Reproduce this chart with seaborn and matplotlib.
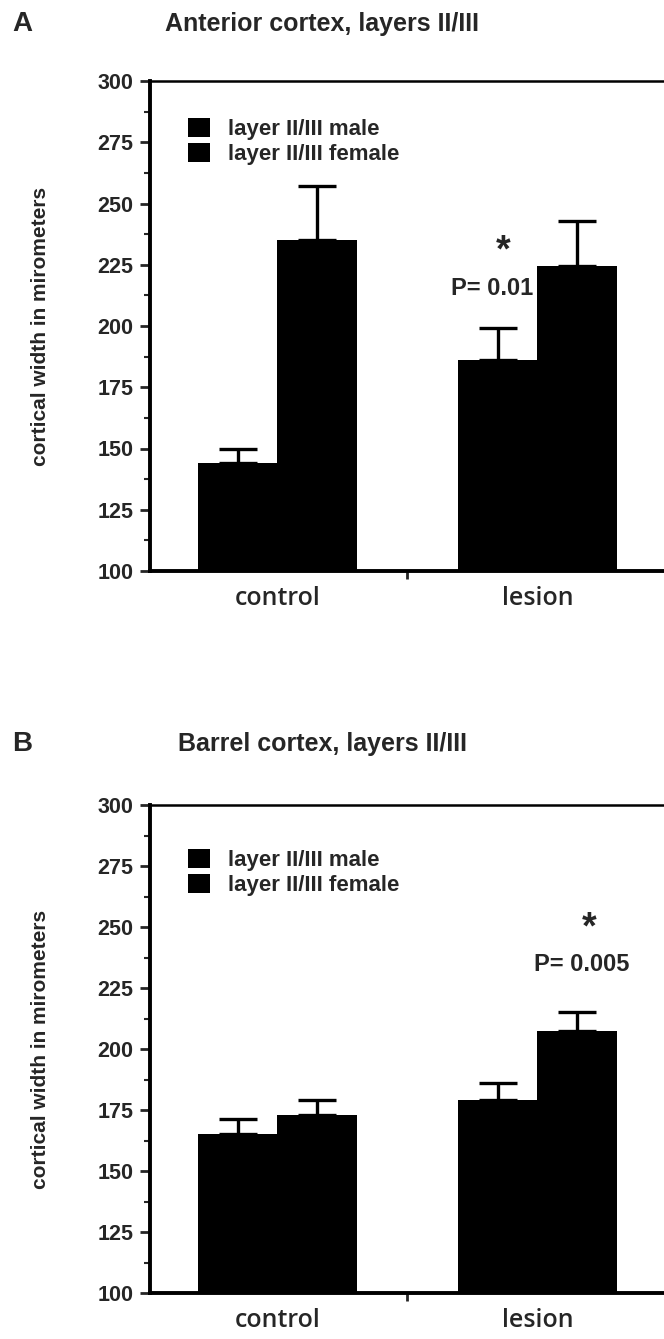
import matplotlib
matplotlib.use('Agg')
import matplotlib.pyplot as plt
import numpy as np
import pandas as pd
import seaborn as sns

# ---------------- data ----------------
groups = ['control', 'lesion']
sexes = ['layer II/III male', 'layer II/III female']

# A: anterior cortex, layers II/III
ant_male = [144, 186]
ant_female = [235, 224.5]
ant_male_err = [6, 13]
ant_female_err = [22, 18.5]

# B: barrel cortex, layers II/III
brl_male = [165, 179]
brl_female = [173, 207.5]
brl_male_err = [6.5, 7]
brl_female_err = [6, 7.5]

# ---------------- style ----------------
sns.set_style('ticks')
narrow = ['Liberation Sans Narrow', 'Liberation Sans', 'DejaVu Sans']
plt.rcParams['font.family'] = narrow
plt.rcParams['font.weight'] = 'bold'

W, H = 664, 1339
fig = plt.figure(figsize=(W / 100, H / 100), dpi=100)


def draw_panel(top_px, bot_px, letter, title, title_y, male, female, male_err, female_err, legend_top):
    ax = fig.add_axes([150 / W, 1 - bot_px / H, (667 - 150) / W, (bot_px - top_px) / H])
    df = pd.DataFrame({'group': groups * 2,
                       'sex': [sexes[0]] * 2 + [sexes[1]] * 2,
                       'width': male + female})
    sns.barplot(data=df, x='group', y='width', hue='sex', palette=['black', 'black'],
                width=0.61, gap=0, errorbar=None, linewidth=0, ax=ax)

    # upward error bars only, from the bars seaborn drew
    for cont, errs in zip(ax.containers, [male_err, female_err]):
        xs = [b.get_x() + b.get_width() / 2 for b in cont]
        tops = [b.get_y() + b.get_height() for b in cont]
        ax.errorbar(xs, tops, yerr=[np.zeros(len(errs)), errs], fmt='none', ecolor='black',
                    elinewidth=2.4, capsize=14, capthick=2.4, zorder=1)

    ax.set_ylim(100, 300)
    ax.set_xlim(-0.49, -0.49 + 517 / 260)
    ax.set_yticks(range(100, 301, 25))
    ax.set_yticks(np.arange(112.5, 300, 25), minor=True)
    ax.tick_params(axis='y', which='major', direction='out', length=7, width=2, labelsize=15.5, pad=5)
    ax.tick_params(axis='y', which='minor', direction='out', length=4, width=1.5)
    ax.set_xticks([0, 1])
    ax.set_xticklabels(groups, fontfamily=['Open Sans', 'DejaVu Sans'], fontsize=18, fontweight='semibold')
    ax.set_xticks([0.5], minor=True)
    ax.tick_params(axis='x', which='major', length=0, pad=11)
    ax.tick_params(axis='x', which='minor', direction='out', length=6, width=2)

    for side, lw in [('left', 2.8), ('bottom', 2.8), ('top', 1.8), ('right', 1.8)]:
        ax.spines[side].set_visible(True)
        ax.spines[side].set_linewidth(lw)
        ax.spines[side].set_color('black')

    ax.set_xlabel('')
    ax.set_ylabel('cortical width in mirometers', fontsize=15, fontweight='bold')
    ax.yaxis.set_label_coords((50 - 150) / 517, 0.5)

    handles, labels = ax.get_legend_handles_labels()
    ax.legend(handles, labels, loc='upper left', bbox_to_anchor=((188 - 150) / 517, legend_top),
              frameon=False, fontsize=16, handlelength=1.0, handleheight=0.95,
              handletextpad=0.8, labelspacing=0.12, borderaxespad=0, borderpad=0)

    fig.text(22 / W, 1 - title_y / H, letter, ha='center', va='center', fontsize=20, fontweight='bold')
    fig.text(322 / W, 1 - title_y / H, title, ha='center', va='center', fontsize=18, fontweight='bold')
    return ax


ax_a = draw_panel(81, 571, 'A', 'Anterior cortex, layers II/III', 24,
                  ant_male, ant_female, ant_male_err, ant_female_err, 0.925)
ax_a.text(0.87, 230.5, '*', ha='center', va='center', fontsize=27, fontweight='bold')
ax_a.text(0.985, 215.5, 'P= 0.01', ha='right', va='center', fontsize=17, fontweight='bold')

ax_b = draw_panel(805, 1293, 'B', 'Barrel cortex, layers II/III', 744,
                  brl_male, brl_female, brl_male_err, brl_female_err, 0.91)
ax_b.text(1.2, 249.5, '*', ha='center', va='center', fontsize=27, fontweight='bold')
ax_b.text(1.17, 234.5, 'P= 0.005', ha='center', va='center', fontsize=17, fontweight='bold')

fig.savefig('out.png', dpi=100)
